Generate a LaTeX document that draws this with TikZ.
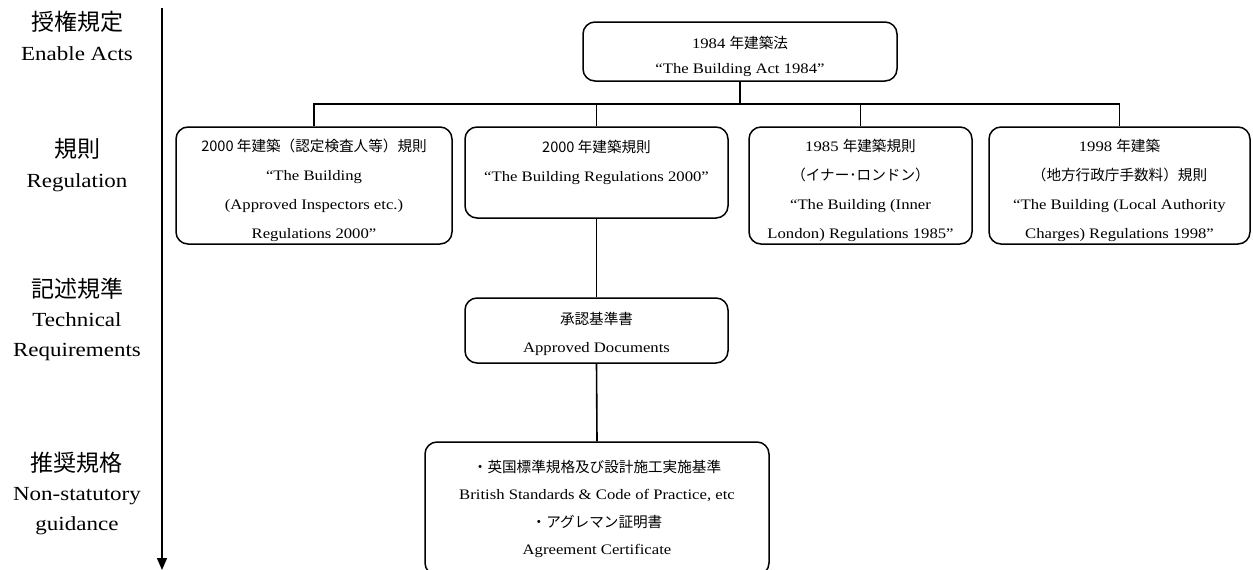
\documentclass[tikz,border=0pt]{standalone}
\usepackage{fontspec}
\setmainfont[FakeStretch=1.15]{Liberation Serif}
\newfontfamily\jpf{Noto Sans CJK JP}
\usetikzlibrary{arrows.meta}
\tikzset{
  box/.style={draw, line width=1.5pt, rounded corners=12pt, inner sep=0pt},
  txt/.style={align=center, inner sep=0pt, font=\fontsize{14.5}{29}\selectfont},
  lbl/.style={align=center, inner sep=0pt, font=\fontsize{20}{29.5}\selectfont},
  conn/.style={line width=1.6pt},
}
\newcommand\jb[1]{{\jpf\fontsize{14.6}{29}\selectfont #1}}
\newcommand\jl[1]{{\jpf\fontsize{23}{29}\selectfont #1}}
\begin{document}
\begin{tikzpicture}[x=1pt,y=-1pt]
\useasboundingbox (0,0) rectangle (1253,570);
\clip (0,0) rectangle (1253,570);
% axis
\coordinate (axtop) at (162,8);
\coordinate (axbot) at (162,570);
\draw[line width=1.5pt, -{Triangle[width=10pt,length=12pt]}] (axtop) -- (axbot);
% left labels
\node[lbl] (l1) at (77,36) {\jl{授権規定}\\Enable Acts};
\node[lbl] (l2) at (77,165) {\jl{規則}\\Regulation};
\node[lbl] (l3) at (77,319) {\jl{記述規準}\\Technical\\Requirements};
\node[lbl] (l4) at (77,493) {\jl{推奨規格}\\Non-statutory\\guidance};
% boxes
\node[box, minimum width=314pt, minimum height=59pt] (top) at (740,51.5) {};
\node[box, minimum width=276pt, minimum height=117pt] (b1) at (314,185.5) {};
\node[box, minimum width=263pt, minimum height=91pt] (b2) at (596.5,172.5) {};
\node[box, minimum width=223pt, minimum height=117pt] (b3) at (860.5,185.5) {};
\node[box, minimum width=261pt, minimum height=117pt] (b4) at (1119.5,185.5) {};
\node[box, minimum width=263pt, minimum height=65pt] (ad) at (596.5,330.5) {};
\node[box, minimum width=344pt, minimum height=133pt] (bs) at (597,508.5) {};
% texts
\node[txt] (ttop) at (740,56) {1984 \jb{年建築法}\\[-4pt]“The Building Act 1984”};
\node[txt] (t1) at (314,190) {\jb{2000 年建築（認定検査人等）規則}\\“The Building\\(Approved Inspectors etc.)\\Regulations 2000”};
\node[txt] (t2) at (596.5,162) {\jb{2000 年建築規則}\\“The Building Regulations 2000”};
\node[txt] (t3) at (860.5,190.5) {1985 \jb{年建築規則}\\\jb{（イナー･ロンドン）}\\“The Building (Inner\\London) Regulations 1985”};
\node[txt] (t4) at (1119.5,190.5) {1998 \jb{年建築}\\\jb{（地方行政庁手数料）規則}\\“The Building (Local Authority\\Charges) Regulations 1998”};
\node[txt] (tad) at (596.5,334) {\jb{承認基準書}\\[-1pt]Approved Documents};
\node[txt] (tbs) at (597,509) {\jb{・英国標準規格及び設計施工実施基準}\\[-1.5pt]British Standards \& Code of Practice, etc\\[-1.5pt]\jb{・アグレマン証明書}\\[-1.5pt]Agreement Certificate};
% connectors
\coordinate (bus) at (740,104);
\draw[conn] (top.south) -- (top.south |- bus);
\draw[conn] (b1.north) |- (b4.north |- bus) -- (b4.north);
\draw[conn] (b2.north) -- (b2.north |- bus);
\draw[conn] (b3.north) -- (b3.north |- bus);
\draw[conn] (b2.south) -- (ad.north);
\draw[conn] (ad.south) -- (bs.north);
\end{tikzpicture}
\end{document}
